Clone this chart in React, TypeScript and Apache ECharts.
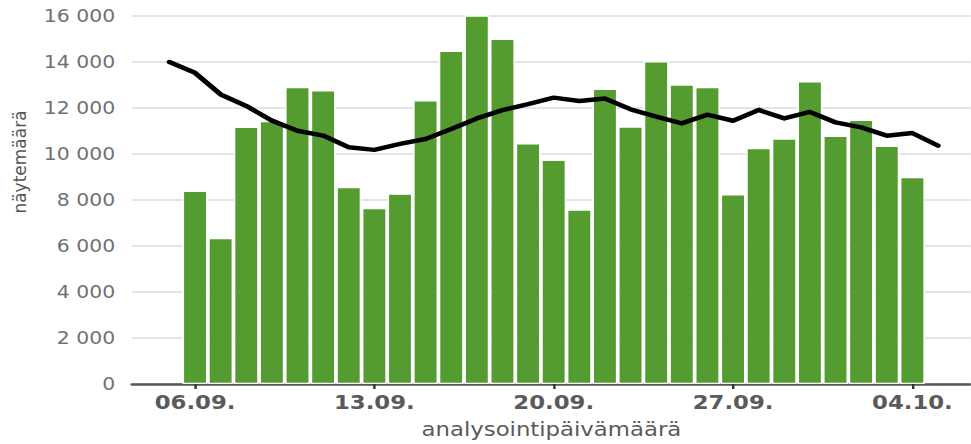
import React, { useEffect, useRef } from "react";
import * as echarts from "echarts";

const dates = [
  "05.09.", "06.09.", "07.09.", "08.09.", "09.09.", "10.09.", "11.09.", "12.09.", "13.09.", "14.09.",
  "15.09.", "16.09.", "17.09.", "18.09.", "19.09.", "20.09.", "21.09.", "22.09.", "23.09.", "24.09.",
  "25.09.", "26.09.", "27.09.", "28.09.", "29.09.", "30.09.", "01.10.", "02.10.", "03.10.", "04.10.",
  "05.10.",
];

const sampleCounts: (number | null)[] = [
  null, 8400, 6350, 11190, 11440, 12910, 12770, 8570, 7650, 8280,
  12335, 14490, 16030, 15010, 10465, 9750, 7590, 12840, 11200, 14030,
  13025, 12910, 8250, 10265, 10680, 13170, 10800, 11490, 10365, 9000,
  null,
];

const movingAverage = [
  14000, 13530, 12590, 12090, 11450, 11010, 10800, 10295, 10180, 10440,
  10655, 11085, 11545, 11905, 12165, 12450, 12305, 12410, 11945, 11630,
  11330, 11710, 11445, 11915, 11545, 11830, 11375, 11155, 10795, 10910,
  10365,
];

const yTicks = [0, 2000, 4000, 6000, 8000, 10000, 12000, 14000, 16000];
const xTickDates = ["06.09.", "13.09.", "20.09.", "27.09.", "04.10."];

const STRETCH = 1.2;
const W = 971;
const H = 444;
const CW = W / STRETCH;

export default function App() {
  const ref = useRef<HTMLDivElement>(null);

  useEffect(() => {
    if (!ref.current) return;
    const chart = echarts.init(ref.current, undefined, { renderer: "svg" });
    const barData = sampleCounts
      .map((v, i) => (v == null ? null : [i, v]))
      .filter((d) => d != null);
    const lineData = movingAverage.map((v, i) => [i, v]);
    const tickIdx = xTickDates.map((d) => dates.indexOf(d));
    const fmtNum = (v: number) =>
      String(v).replace(/\B(?=(\d{3})+(?!\d))/g, " ");

    chart.setOption({
      animation: false,
      grid: { left: 132 / STRETCH, right: 0, top: 16, bottom: 57, containLabel: false },
      xAxis: {
        type: "value",
        min: -1.46,
        max: 31.28,
        splitLine: { show: false },
        axisLine: { show: true, lineStyle: { color: "#555555", width: 2.5 } },
        axisTick: {
          show: true,
          customValues: tickIdx,
          length: 5,
          lineStyle: { color: "#333333", width: 2 },
        },
        axisLabel: {
          customValues: tickIdx,
          formatter: (v: number) => dates[Math.round(v)] ?? "",
          fontFamily: "DejaVu Sans",
          fontWeight: "bold",
          fontSize: 19,
          color: "#5a5a5a",
          margin: 9,
        },
        name: "analysointipäivämäärä",
        nameLocation: "middle",
        nameGap: 36,
        nameTextStyle: {
          fontFamily: "DejaVu Sans",
          fontSize: 19,
          color: "#5a5a5a",
        },
      },
      yAxis: {
        type: "value",
        min: yTicks[0],
        max: yTicks[yTicks.length - 1],
        interval: 2000,
        axisLine: { show: false },
        axisTick: { show: false },
        splitLine: { show: true, lineStyle: { color: "#e1e4e8", width: 2 } },
        axisLabel: {
          formatter: (v: number) => fmtNum(v),
          fontFamily: "DejaVu Sans",
          fontSize: 17,
          color: "#707070",
          margin: 14,
        },
      },
      graphic: [
        {
          type: "text",
          x: 12 / STRETCH,
          y: 162,
          rotation: Math.PI / 2,
          scaleY: 1 / STRETCH,
          style: {
            text: "näytemäärä",
            fontFamily: "DejaVu Sans",
            fontSize: 17,
            fill: "#555555",
            align: "center",
            verticalAlign: "top",
          },
        },
      ],
      series: [
        {
          type: "bar",
          data: barData,
          barWidth: 25 / STRETCH,
          itemStyle: { color: "#549c30", borderColor: "#ffffff", borderWidth: 1.3 },
          z: 2,
        },
        {
          type: "line",
          data: lineData,
          showSymbol: false,
          symbol: "none",
          lineStyle: { color: "#000000", width: 4.5, cap: "round", join: "round" },
          z: 3,
        },
      ],
    });
    return () => chart.dispose();
  }, []);

  return (
    <div
      style={{ position: "fixed", left: 0, top: 0, width: W, height: H, overflow: "hidden", background: "#ffffff" }}
    >
      <div
        ref={ref}
        style={{
          width: CW,
          height: H,
          transform: `scaleX(${STRETCH})`,
          transformOrigin: "0 0",
        }}
      />
    </div>
  );
}
